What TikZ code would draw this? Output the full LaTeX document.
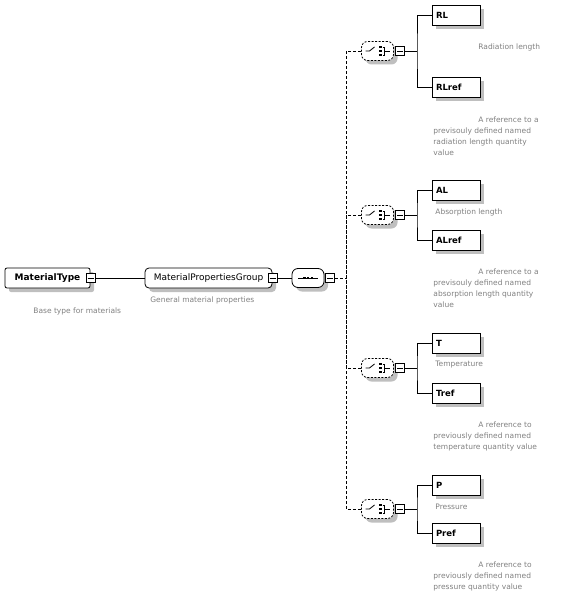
\documentclass[tikz,border=0pt]{standalone}
\usepackage{fontspec}
\setmainfont{DejaVu Sans}
\usetikzlibrary{shapes}
\usetikzlibrary{shadows}

\begin{document}
\begin{tikzpicture}[x=1pt,y=-1pt,line width=0.8pt]
			\tikzstyle{shade}=[drop shadow={shadow xshift=4pt,shadow yshift=-4pt,fill=black!25,opacity=1}]
			\tikzstyle{elem}=[rectangle,draw,fill=white,shade,minimum height=20pt,text width=40pt,inner xsep=4pt,inner ysep=0pt,align=left,font=\bfseries\fontsize{8.5}{10}\selectfont]
			\tikzstyle{ctype}=[rectangle,rounded corners=2pt,draw,fill=white,shade,minimum width=85pt,minimum height=20pt,inner sep=0pt,font=\bfseries\fontsize{9}{10}\selectfont]
			\tikzstyle{grp}=[rectangle,rounded corners=4pt,draw,fill=white,shade,minimum width=127pt,minimum height=20pt,inner sep=0pt,font=\fontsize{9}{10}\selectfont]
			\tikzstyle{compo}=[rectangle,rounded corners=6pt,draw,fill=white,shade,minimum width=32pt,minimum height=19pt,inner sep=0pt]
			\tikzstyle{seqsym}=[compo,path picture={
				\draw[sharp corners] ([xshift=-10pt]path picture bounding box.center) -- ([xshift=10pt]path picture bounding box.center);
				\foreach \dx in {-5,-1.25,2.5}
					\fill[black,sharp corners] ([shift={(\dx pt,-1.25pt)}]path picture bounding box.center) rectangle +(2.5pt,2.5pt);}]
			\tikzstyle{choicesym}=[compo,dash pattern=on 2pt off 1.5pt,path picture={
				\draw[solid,sharp corners] ([xshift=-12pt]path picture bounding box.center) -- ++(4pt,0pt) -- ++(5pt,4pt);
				\foreach \dy in {-5.25,-1.25,2.75}
					\fill[black,sharp corners] ([shift={(1.5pt,\dy pt)}]path picture bounding box.center) rectangle +(2.5pt,2.5pt);
				\draw[solid,sharp corners] ([shift={(5pt,4pt)}]path picture bounding box.center) -- ++(2pt,0pt) -- ++(0pt,-8pt) -- ++(-2pt,0pt);
				\draw[solid,sharp corners] ([xshift=7pt]path picture bounding box.center) -- ++(5pt,0pt);}]
			\tikzstyle{minus}=[rectangle,draw,fill=white,minimum size=9pt,inner sep=0pt,path picture={
				\draw ([xshift=-3pt]path picture bounding box.center) -- ([xshift=3pt]path picture bounding box.center);}]
			\tikzstyle{desc}=[text=black!50,inner sep=0pt,align=left,anchor=west,font=\fontsize{7.5}{11}\selectfont]
			\tikzstyle{optline}=[dash pattern=on 3pt off 2pt]

			\useasboundingbox (0,0) rectangle (584,610);

			% root type and group
			\node[ctype] (mt) at (47.5,278) {MaterialType};
			\node[minus] (mtm) at (90.5,278) {};
			\node[desc] (mtd) at (33,311) {Base type for materials};
			\node[grp] (mpg) at (208.5,278) {MaterialPropertiesGroup};
			\node[minus] (mpgm) at (272.5,278) {};
			\node[desc] (mpgd) at (150,300) {General material properties};
			\node[seqsym] (sq) at (308,278) {};
			\node[minus] (sqm) at (330,278) {};
			\coordinate (bus) at (346,278);

			% choices
			\node[choicesym] (ch1) at (377.5,51) {};
			\node[minus] (ch1m) at (400,51) {};
			\coordinate (b1) at (417,51);
			\node[choicesym] (ch2) at (377.5,215) {};
			\node[minus] (ch2m) at (400,215) {};
			\coordinate (b2) at (417,215);
			\node[choicesym] (ch3) at (377.5,368) {};
			\node[minus] (ch3m) at (400,368) {};
			\coordinate (b3) at (417,368);
			\node[choicesym] (ch4) at (377.5,509) {};
			\node[minus] (ch4m) at (400,509) {};
			\coordinate (b4) at (417,509);

			% elements
			\node[elem] (rl) at (456,15) {RL};
			\node[elem] (rlref) at (456,87) {RLref};
			\node[elem] (al) at (456,190) {AL};
			\node[elem] (alref) at (456,240) {ALref};
			\node[elem] (t) at (456,343) {T};
			\node[elem] (tref) at (456,393) {Tref};
			\node[elem] (p) at (456,485) {P};
			\node[elem] (pref) at (456,533) {Pref};

			\node[desc] (rld) at (478,47) {Radiation length};
			\node[desc,anchor=north west] (rlrefd) at (433,116) {\hspace*{45pt}A reference to a\\previsouly defined named\\radiation length quantity\\value};
			\node[desc] (ald) at (435,212) {Absorption length};
			\node[desc,anchor=north west] (alrefd) at (433,268) {\hspace*{45pt}A reference to a\\previsouly defined named\\absorption length quantity\\value};
			\node[desc] (td) at (435,365) {Temperature};
			\node[desc,anchor=north west] (trefd) at (433,421) {\hspace*{45pt}A reference to\\previously defined named\\temperature quantity value};
			\node[desc] (pd) at (435,507) {Pressure};
			\node[desc,anchor=north west] (prefd) at (433,561) {\hspace*{45pt}A reference to\\previously defined named\\pressure quantity value};

			% connectors
			\draw (mtm) -- (mpg);
			\draw (mpgm) -- (sq);
			\draw[optline] (sqm) -- (bus);
			\draw[optline] (ch1) -| (bus) |- (ch4);
			\draw[optline] (ch2) -| (bus);
			\draw[optline] (ch3) -| (bus);
			\draw (ch1m) -- (b1); \draw (rl) -| (b1) |- (rlref);
			\draw (ch2m) -- (b2); \draw (al) -| (b2) |- (alref);
			\draw (ch3m) -- (b3); \draw (t) -| (b3) |- (tref);
			\draw (ch4m) -- (b4); \draw (p) -| (b4) |- (pref);
\end{tikzpicture}
\end{document}
